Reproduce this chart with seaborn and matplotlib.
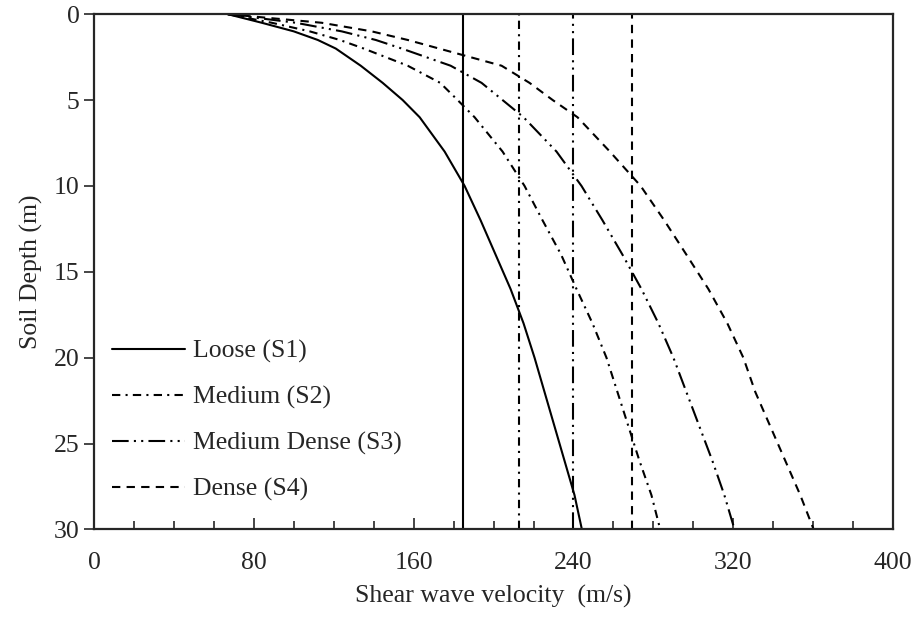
import numpy as np
import pandas as pd
import matplotlib
matplotlib.use('Agg')
import matplotlib.pyplot as plt
import seaborn as sns

# depth (m) and shear wave velocity (m/s)
depth = [0, 0.5, 1, 1.5, 2, 3, 4, 5, 6, 8, 10, 12, 14, 16, 18, 20, 22, 24, 26, 28, 30]
vs_loose = [67, 84, 100, 112, 121, 133.5, 144.5, 154.5, 163, 175.5, 185.5, 193.5, 201,
            208.5, 215, 220.5, 225.5, 230.5, 235.5, 240.5, 244.2]
vs_medium = [67, 89, 108, 123, 135, 157, 173.3, 182, 190.5, 204.5, 215.5, 224.5, 233.8,
             241.5, 249.5, 256.5, 262, 267.5, 273, 279, 283.4]
vs_mdense = [67, 101, 124, 141, 154, 178.5, 194, 204.5, 215, 231.5, 244, 254.5, 264.5,
             274, 282.5, 290, 296.5, 303, 309.5, 315.5, 320.6]
vs_dense = [67, 114, 139, 157, 172.7, 204, 218, 229.6, 242, 258.2, 273.6, 285.4, 296.5,
            307.5, 317, 325, 331, 338.5, 346, 353.5, 360.2]
# average velocity of each profile (vertical lines)
vs_avg = [184.5, 212.8, 240, 269.2]

labels = ['Loose (S1)', 'Medium (S2)', 'Medium Dense (S3)', 'Dense (S4)']
profiles = [vs_loose, vs_medium, vs_mdense, vs_dense]
dash_styles = [(None, None), (4, 2.5, 1, 2.5), (8, 2.5, 1, 2.5, 1, 2.5), (4, 3)]

sns.set_style('ticks')
plt.rcParams['font.family'] = ['Liberation Serif', 'DejaVu Serif']
fs = 18.5
plt.rcParams['font.size'] = fs

fig, ax = plt.subplots(figsize=(9.17, 6.17), dpi=100)
fig.subplots_adjust(left=0.1025, right=0.974, top=0.977, bottom=0.142)

for lab, vs, ds, va in zip(labels, profiles, dash_styles, vs_avg):
    df = pd.DataFrame({'vs': vs, 'z': depth})
    sns.lineplot(data=df, x='vs', y='z', sort=False, estimator=None,
                 color='black', lw=1.5, label=lab, ax=ax)
    l = ax.lines[-1]
    l2 = ax.axvline(va, color='black', lw=1.5)
    if ds[0] is not None:
        l.set_dashes(ds)
        l2.set_dashes(ds)

ax.set_xlim(0, 400)
ax.set_ylim(30, 0)
ax.set_xticks(np.arange(0, 401, 80))
ax.set_xticks(np.arange(0, 401, 20), minor=True)
ax.set_yticks(np.arange(0, 31, 5))
ax.tick_params(axis='x', direction='in', length=8, width=1.2, labelsize=fs, pad=16)
ax.tick_params(axis='x', which='minor', direction='in', length=6, width=1.2)
ax.tick_params(axis='y', direction='out', length=7, width=1.2, labelsize=fs)
for sp in ax.spines.values():
    sp.set_linewidth(1.6)
    sp.set_visible(True)

ax.set_xlabel('Shear wave velocity  (m/s)', fontsize=fs, labelpad=8)
ax.set_ylabel('Soil Depth (m)', fontsize=fs, labelpad=8)

ax.legend(loc='lower left', bbox_to_anchor=(0.0, 0.02), frameon=False,
          handlelength=2.85, handletextpad=0.3, labelspacing=0.88,
          fontsize=fs, borderaxespad=0.3)

fig.savefig('out.png', dpi=100)
